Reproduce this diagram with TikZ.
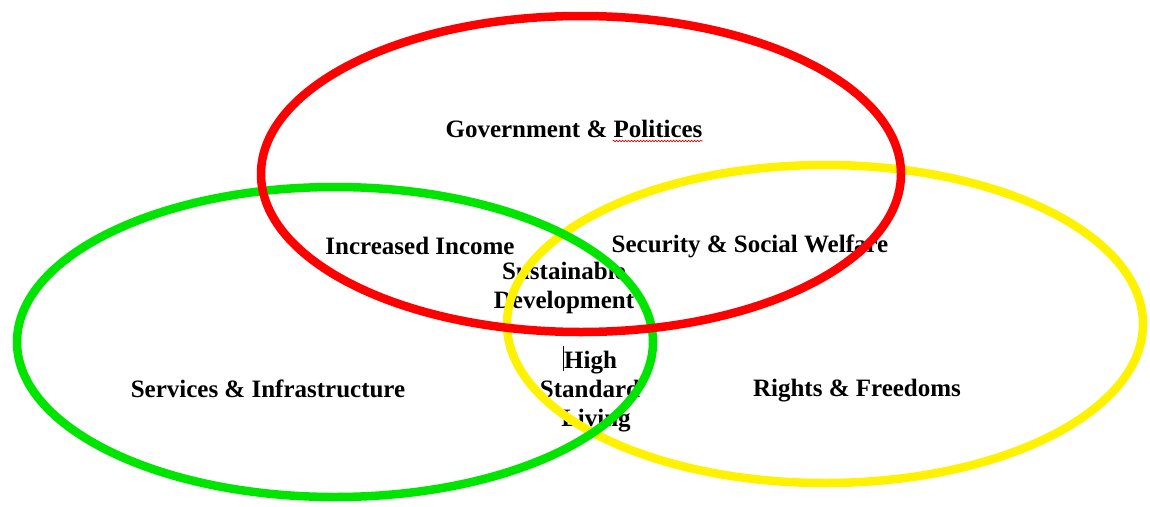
\documentclass[tikz,border=0pt]{standalone}
\usepackage{fontspec}
\setmainfont{Liberation Serif}
\usetikzlibrary{decorations.pathmorphing}

\begin{document}
\begin{tikzpicture}[
      x=1pt, y=-1pt,
      lab/.style={font=\fontsize{25}{29}\selectfont\bfseries, align=center, inner sep=0pt},
      ring/.style={line width=8.5pt},
      squiggle/.style={draw=red!80!black, line width=0.6pt, decorate, decoration={snake, amplitude=0.8pt, segment length=3pt}},
    ]
    \useasboundingbox (0,0) rectangle (1150,506);
    % labels first, the rings run over them
    \node[lab] (gov)  at (574,129) {Government \& Politices};
    \node[lab] (inc)  at (420,246) {Increased Income};
    \node[lab] (sec)  at (750,246) {Security \& Social Welfare};
    \node[lab] (sus)  at (564,288) {Sustainable\\Development};
    \node[lab] (high) at (590,389) {\rule[-2pt]{1.2pt}{25pt}High\\Standard\\\hspace*{12pt}Living};
    \node[lab] (serv) at (268,389) {Services \& Infrastructure};
    \node[lab] (rig)  at (857,391) {Rights \& Freedoms};
    \draw[squiggle] ([xshift=-90pt,yshift=-3pt]gov.south east) -- ([yshift=-3pt]gov.south east);
    % the three rings
    \draw[ring, yellow]          (825,324) ellipse [x radius=318, y radius=159];
    \draw[ring, green!90!black]  (335,342) ellipse [x radius=318, y radius=155];
    \draw[ring, red]             (581,174) ellipse [x radius=320, y radius=158];
  \end{tikzpicture}
\end{document}
